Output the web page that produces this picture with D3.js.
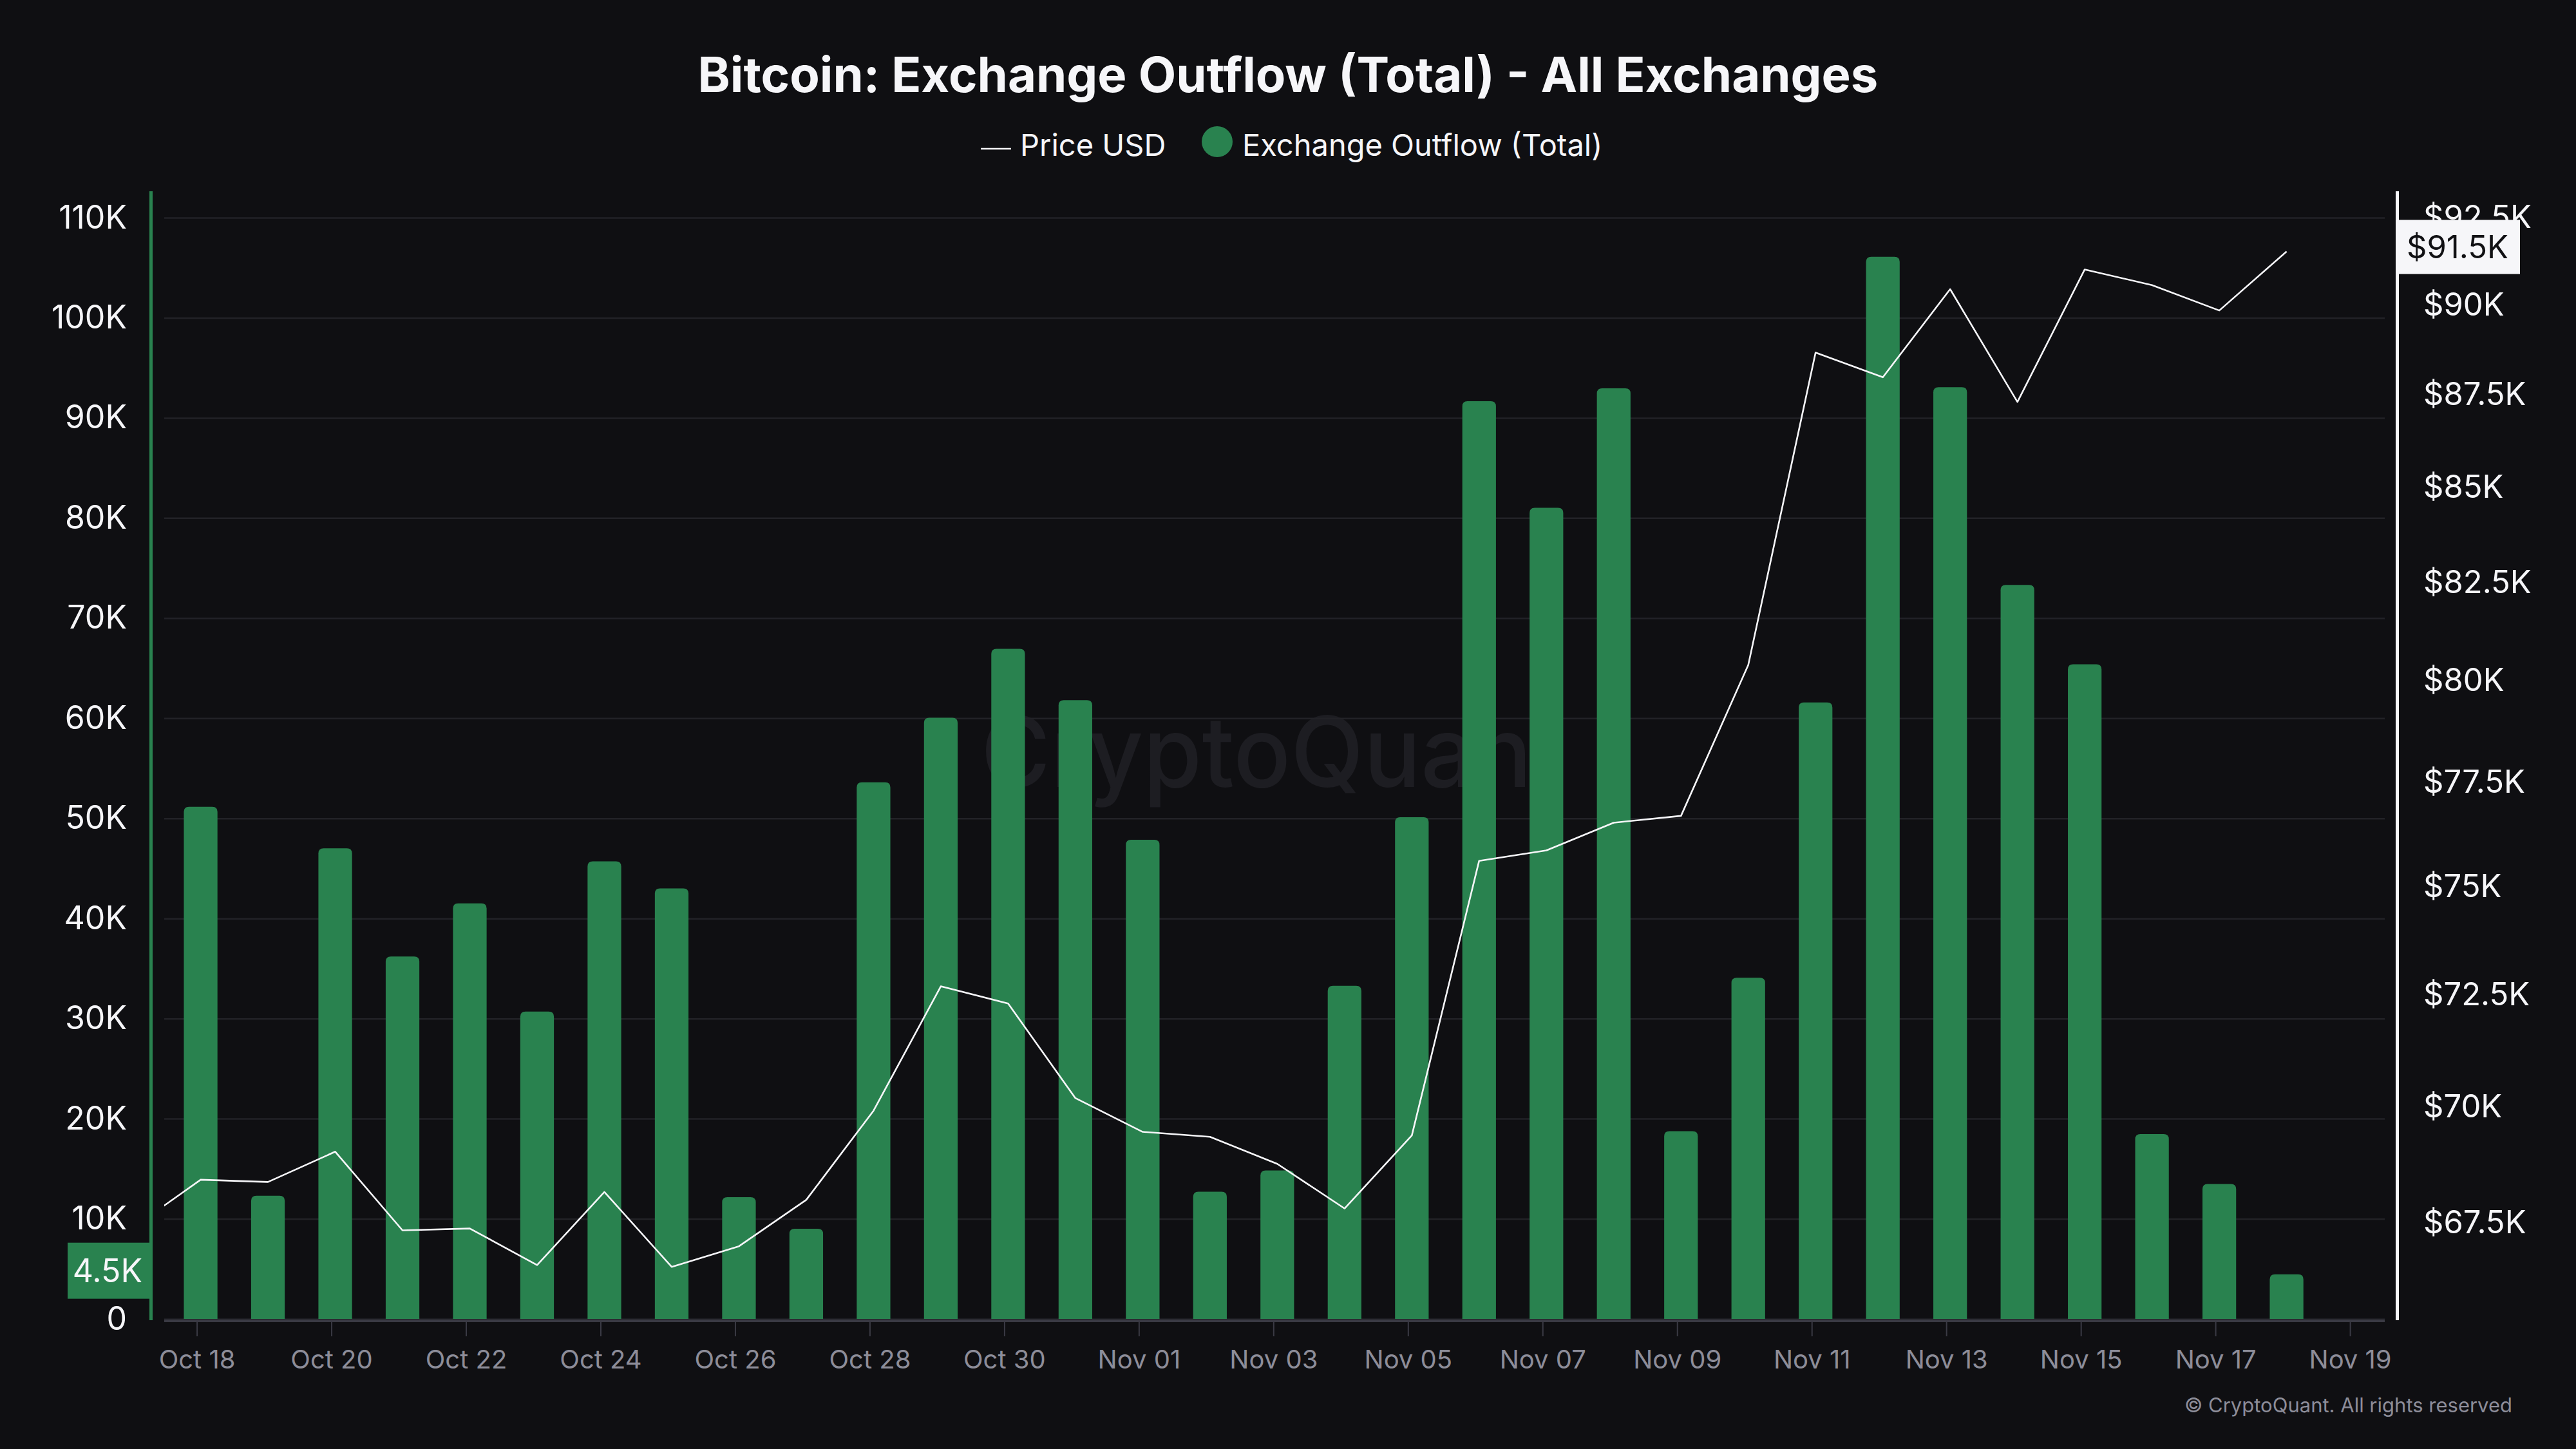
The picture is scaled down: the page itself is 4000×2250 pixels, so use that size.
<!DOCTYPE html>
<html>
<head>
<meta charset="utf-8">
<script src="https://cdn.jsdelivr.net/npm/d3@7"></script>
<style>
  html, body { margin: 0; padding: 0; background: #0f0f12; }
  svg { display: block; }
</style>
</head>
<body>
<svg id="chart" width="4000" height="2250"></svg>
<script>
// ---------------- DATA ----------------
const barDates = [
  "2024-10-18","2024-10-19","2024-10-20","2024-10-21","2024-10-22","2024-10-23","2024-10-24","2024-10-25",
  "2024-10-26","2024-10-27","2024-10-28","2024-10-29","2024-10-30","2024-10-31","2024-11-01","2024-11-02",
  "2024-11-03","2024-11-04","2024-11-05","2024-11-06","2024-11-07","2024-11-08","2024-11-09","2024-11-10",
  "2024-11-11","2024-11-12","2024-11-13","2024-11-14","2024-11-15","2024-11-16","2024-11-17","2024-11-18"
];
const outflowTotal = [
  51150, 12300, 47000, 36200, 41500, 30700, 45700, 43000,
  12150, 9000, 53600, 60050, 66940, 61800, 47860, 12710,
  14820, 33280, 50110, 91660, 81020, 92950, 18750, 34070,
  61580, 106100, 93070, 73320, 65390, 18460, 13470, 4460
];
const priceDates = [
  "2024-10-17","2024-10-18","2024-10-19","2024-10-20","2024-10-21","2024-10-22","2024-10-23","2024-10-24",
  "2024-10-25","2024-10-26","2024-10-27","2024-10-28","2024-10-29","2024-10-30","2024-10-31","2024-11-01",
  "2024-11-02","2024-11-03","2024-11-04","2024-11-05","2024-11-06","2024-11-07","2024-11-08","2024-11-09",
  "2024-11-10","2024-11-11","2024-11-12","2024-11-13","2024-11-14","2024-11-15","2024-11-16","2024-11-17",
  "2024-11-18"
];
const priceUSD = [
  67404, 68421, 68372, 69025, 67343, 67383, 66614, 68159,
  66577, 67009, 67990, 69917, 72696, 72307, 70193, 69455,
  69347, 68762, 67807, 69377, 75613, 75861, 76522, 76686,
  80401, 88670, 87987, 90450, 87309, 91010, 90565, 89848,
  91526
];
const leftTicks = [0, 10000, 20000, 30000, 40000, 50000, 60000, 70000, 80000, 90000, 100000, 110000];
const leftTickLabels = ["0","10K","20K","30K","40K","50K","60K","70K","80K","90K","100K","110K"];
const rightTicks = [67500, 70000, 72500, 75000, 77500, 80000, 82500, 85000, 87500, 90000, 92500];
const rightTickLabels = ["$67.5K","$70K","$72.5K","$75K","$77.5K","$80K","$82.5K","$85K","$87.5K","$90K","$92.5K"];
const xTickDates = [
  "2024-10-18","2024-10-20","2024-10-22","2024-10-24","2024-10-26","2024-10-28","2024-10-30",
  "2024-11-01","2024-11-03","2024-11-05","2024-11-07","2024-11-09","2024-11-11","2024-11-13",
  "2024-11-15","2024-11-17","2024-11-19"
];
const xTickLabels = [
  "Oct 18","Oct 20","Oct 22","Oct 24","Oct 26","Oct 28","Oct 30",
  "Nov 01","Nov 03","Nov 05","Nov 07","Nov 09","Nov 11","Nov 13",
  "Nov 15","Nov 17","Nov 19"
];
const titleText = "Bitcoin: Exchange Outflow (Total) - All Exchanges";
const legendLine = "Price USD";
const legendBar = "Exchange Outflow (Total)";
const lastPriceLabel = "$91.5K";
const lastOutflowLabel = "4.5K";
const watermark = "CryptoQuant";
const copyright = "\u00A9 CryptoQuant. All rights reserved";

// ---------------- STYLE / LAYOUT ----------------
const BG = "#0f0f12";
const GREEN = "#29824f";
const WHITE = "#f6f6f9";
const GREY = "#8d8d99";
const GRID = "#222227";
const AXIS = "#3a3a44";
const FONT = "Inter, 'Noto Sans', sans-serif";

const plot = { left: 255, right: 3703, top: 338, bottom: 2048 };
const parse = d3.utcParse("%Y-%m-%d");
const dataShift = 6; // data points sit slightly right of the midnight ticks

const svg = d3.select("#chart");
svg.append("rect").attr("width", 4000).attr("height", 2250).attr("fill", BG);

const x0 = new Date(Date.UTC(2024, 9, 17, 12, 23));
const x1 = new Date(x0.getTime() + 33 * 86400000);
const x = d3.scaleUtc().domain([x0, x1]).range([plot.left, plot.right]);
const yL = d3.scaleLinear().domain([0, 110000]).range([plot.bottom, plot.top]);
const yR = d3.scaleLog().domain([65500, 92500]).range([plot.bottom, plot.top]);
const dayW = x(new Date(x0.getTime() + 86400000)) - x(x0);
const barW = dayW * 0.5;

// clip
svg.append("defs").append("clipPath").attr("id", "plotclip")
  .append("rect").attr("x", plot.left).attr("y", 280)
  .attr("width", plot.right - plot.left).attr("height", plot.bottom - 280 + 4);

// ---------------- TITLE & LEGEND ----------------
svg.append("text").attr("x", 2000).attr("y", 143).attr("text-anchor", "middle")
  .attr("font-family", FONT).attr("font-weight", 700).attr("font-size", 76)
  .attr("fill", WHITE).text(titleText);

const lg = svg.append("g");
lg.append("line").attr("x1", 1523).attr("x2", 1570).attr("y1", 231).attr("y2", 231)
  .attr("stroke", WHITE).attr("stroke-width", 2.5);
lg.append("text").attr("x", 1584).attr("y", 242).attr("font-family", FONT)
  .attr("font-size", 47).attr("fill", WHITE).text(legendLine);
lg.append("circle").attr("cx", 1890).attr("cy", 220).attr("r", 24).attr("fill", GREEN);
lg.append("text").attr("x", 1929).attr("y", 242).attr("font-family", FONT)
  .attr("font-size", 47).attr("fill", WHITE).text(legendBar);

// ---------------- WATERMARK ----------------
svg.append("text").attr("x", 1976).attr("y", 1222).attr("text-anchor", "middle")
  .attr("font-family", FONT).attr("font-weight", 500).attr("font-size", 152)
  .attr("textLength", 906).attr("lengthAdjust", "spacingAndGlyphs")
  .attr("fill", "#1d1d22").text(watermark);

// ---------------- GRID ----------------
const grid = svg.append("g").attr("transform", `translate(${plot.left},0)`)
  .call(d3.axisLeft(yL).tickValues(leftTicks).tickSize(-(plot.right - plot.left)).tickFormat(""));
grid.select(".domain").remove();
grid.selectAll(".tick line").attr("stroke", GRID).attr("stroke-width", 2.5);

// ---------------- BARS ----------------
function topRounded(xl, yt, w, h, r) {
  r = Math.min(r, h, w / 2);
  return `M${xl},${yt + h}V${yt + r}Q${xl},${yt} ${xl + r},${yt}H${xl + w - r}Q${xl + w},${yt} ${xl + w},${yt + r}V${yt + h}Z`;
}
svg.append("g").selectAll("path").data(barDates.map((d, i) => ({ d: parse(d), v: outflowTotal[i] })))
  .join("path")
  .attr("d", o => {
    const cx = x(o.d) + dataShift;
    const yt = yL(o.v);
    return topRounded(cx - barW / 2, yt, barW, yL(0) - yt, 8);
  })
  .attr("fill", GREEN);

// ---------------- X AXIS ----------------
const xa = svg.append("g").attr("transform", `translate(0,${plot.bottom + 3})`)
  .call(d3.axisBottom(x).tickValues(xTickDates.map(parse))
    .tickFormat((d, i) => xTickLabels[i]).tickSize(24).tickPadding(22));
xa.select(".domain").attr("stroke", AXIS).attr("stroke-width", 4).attr("d", `M${plot.left},0H${plot.right}`);
xa.selectAll(".tick line").attr("stroke", AXIS).attr("stroke-width", 2);
xa.selectAll(".tick text").attr("fill", GREY).attr("font-family", FONT).attr("font-size", 40);

// ---------------- PRICE LINE ----------------
const line = d3.line().x(p => x(p.d) + dataShift).y(p => yR(p.v));
svg.append("path").attr("clip-path", "url(#plotclip)")
  .datum(priceDates.map((d, i) => ({ d: parse(d), v: priceUSD[i] })))
  .attr("d", line).attr("fill", "none").attr("stroke", WHITE).attr("stroke-width", 2.6)
  .attr("stroke-linejoin", "round");

// ---------------- LEFT AXIS ----------------
const la = svg.append("g").attr("transform", `translate(234,0)`)
  .call(d3.axisLeft(yL).tickValues(leftTicks).tickFormat((d, i) => leftTickLabels[i])
    .tickSize(0).tickPadding(37));
la.select(".domain").remove();
la.selectAll(".tick text").attr("fill", WHITE).attr("font-family", FONT).attr("font-size", 50);
svg.append("line").attr("x1", 234.5).attr("x2", 234.5).attr("y1", 297).attr("y2", 2050)
  .attr("stroke", GREEN).attr("stroke-width", 5);

// ---------------- RIGHT AXIS ----------------
const ra = svg.append("g").attr("transform", `translate(3722,0)`)
  .call(d3.axisRight(yR).tickValues(rightTicks).tickFormat((d, i) => rightTickLabels[i])
    .tickSize(0).tickPadding(41));
ra.select(".domain").remove();
ra.selectAll(".tick text").attr("fill", WHITE).attr("font-family", FONT).attr("font-size", 49);
svg.append("line").attr("x1", 3722.5).attr("x2", 3722.5).attr("y1", 297).attr("y2", 2050)
  .attr("stroke", WHITE).attr("stroke-width", 5);

// ---------------- VALUE LABELS ----------------
const lastP = priceUSD[priceUSD.length - 1];
const pY = yR(lastP) - 7;
svg.append("rect").attr("x", 3725).attr("y", pY - 42).attr("width", 188).attr("height", 84)
  .attr("fill", WHITE);
svg.append("text").attr("x", 3737).attr("y", pY).attr("dy", "0.36em")
  .attr("font-family", FONT).attr("font-size", 49).attr("fill", "#111114").text(lastPriceLabel);

const lastV = outflowTotal[outflowTotal.length - 1];
const vY = yL(lastV) - 6;
svg.append("rect").attr("x", 105).attr("y", vY - 43).attr("width", 127).attr("height", 87)
  .attr("fill", GREEN);
svg.append("text").attr("x", 221).attr("y", vY).attr("dy", "0.36em").attr("text-anchor", "end")
  .attr("font-family", FONT).attr("font-size", 50).attr("fill", WHITE).text(lastOutflowLabel);

// ---------------- FOOTER ----------------
svg.append("text").attr("x", 3901).attr("y", 2193).attr("text-anchor", "end")
  .attr("font-family", FONT).attr("font-size", 31).attr("fill", GREY).text(copyright);
</script>
</body>
</html>
